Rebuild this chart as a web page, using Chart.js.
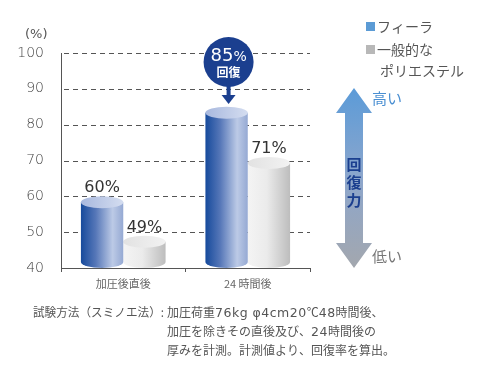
<!DOCTYPE html>
<html>
<head>
<meta charset="utf-8">
<script src="https://cdn.jsdelivr.net/npm/chart.js@4"></script>
<style>
  html, body { margin: 0; padding: 0; background: #fff; }
  #wrap { position: relative; width: 500px; height: 375px; }
</style>
</head>
<body>
<div id="wrap"><canvas id="chart" width="500" height="375"></canvas></div>
<script>
const categories = ['加圧後直後', '24 時間後'];
const feeraValues = [60, 85];
const polyValues = [49, 71];
const yTicks = [40, 50, 60, 70, 80, 90, 100];
const seriesNames = ['フィーラ', '一般的な', 'ポリエステル'];
const notePrefix = '試験方法（スミノエ法）:';
const noteLines = [
  '加圧荷重76kg φ4cm20℃48時間後、',
  '加圧を除きその直後及び、24時間後の',
  '厚みを計測。計測値より、回復率を算出。'
];

const FONT = '"Noto Sans CJK JP", "Noto Sans", sans-serif';
const NUM = '"DejaVu Sans", sans-serif';
const TEXT = '#555';

// 英数字は幅の広い書体で描く
function drawMixed(ctx, text, x, y, size) {
  let cx = x;
  for (const ch of text) {
    const ascii = /[0-9A-Za-z φ]/.test(ch);
    ctx.font = ascii ? (size + 0.5) + 'px ' + NUM : size + 'px ' + FONT;
    ctx.fillText(ch, cx, y);
    cx += ctx.measureText(ch).width + (ascii ? 0.5 : 0);
  }
}

// 点線の目盛線
const dashGridPlugin = {
  id: 'dashGrid',
  beforeDatasetsDraw(chart) {
    const ctx = chart.ctx;
    const y = chart.scales.y;
    const area = chart.chartArea;
    ctx.save();
    ctx.strokeStyle = '#555';
    ctx.lineWidth = 1;
    ctx.setLineDash([5, 4]);
    yTicks.forEach((v) => {
      if (v === y.min) return;
      const py = Math.round(y.getPixelForValue(v)) + 0.5;
      ctx.beginPath();
      ctx.moveTo(area.left + 3, py);
      ctx.lineTo(area.right, py);
      ctx.stroke();
    });
    ctx.restore();
  }
};

// 円柱風に棒を描く
const cylinderPlugin = {
  id: 'cylinder',
  afterDatasetsDraw(chart) {
    const ctx = chart.ctx;
    const ry = 6;
    const base = chart.chartArea.bottom;
    // グレーを先に、青を手前に
    [1, 0].forEach((di) => {
      const meta = chart.getDatasetMeta(di);
      meta.data.forEach((bar, idx) => {
        const w = bar.width;
        const left = bar.x - w / 2;
        const right = bar.x + w / 2;
        const top = bar.y + ry;
        const bottom = base - ry;
        const g = ctx.createLinearGradient(left, 0, right, 0);
        if (di === 0) {
          g.addColorStop(0, '#164a9c');
          g.addColorStop(0.35, '#5677b8');
          g.addColorStop(0.75, '#bccae6');
          g.addColorStop(1, '#95a9d3');
        } else {
          g.addColorStop(0, '#f4f4f4');
          g.addColorStop(0.45, '#ebebeb');
          g.addColorStop(1, '#bdbdbd');
        }
        ctx.save();
        ctx.fillStyle = g;
        ctx.beginPath();
        ctx.moveTo(left, top);
        ctx.lineTo(left, bottom);
        ctx.ellipse(bar.x, bottom, w / 2, ry, 0, Math.PI, 0, true);
        ctx.lineTo(right, top);
        ctx.closePath();
        ctx.fill();
        const tg = ctx.createLinearGradient(left, 0, right, 0);
        if (di === 0) {
          tg.addColorStop(0, '#a8b8de');
          tg.addColorStop(1, '#d4ddf0');
        } else {
          tg.addColorStop(0, '#e2e2e2');
          tg.addColorStop(1, '#f2f2f2');
        }
        ctx.fillStyle = tg;
        ctx.beginPath();
        ctx.ellipse(bar.x, top, w / 2, ry, 0, 0, Math.PI * 2);
        ctx.fill();
        ctx.restore();

        // 値ラベル
        const v = chart.data.datasets[di].data[idx];
        if (!(di === 0 && idx === 1)) {
          ctx.save();
          ctx.fillStyle = '#333';
          ctx.font = '16px ' + NUM;
          ctx.textAlign = 'center';
          ctx.fillText(v + '%', bar.x, bar.y - 4);
          ctx.restore();
        }
      });
    });

    // 85%回復の吹き出し
    const hi = chart.getDatasetMeta(0).data[1];
    const cx = hi.x + 2;
    const cy = 62;
    ctx.save();
    ctx.fillStyle = '#1b3f8f';
    ctx.beginPath();
    ctx.arc(cx, cy, 25, 0, Math.PI * 2);
    ctx.fill();
    ctx.fillRect(cx - 2, cy + 20, 4, 15);
    ctx.beginPath();
    ctx.moveTo(cx - 7, cy + 33);
    ctx.lineTo(cx + 7, cy + 33);
    ctx.lineTo(cx, cy + 42);
    ctx.closePath();
    ctx.fill();
    ctx.fillStyle = '#fff';
    ctx.textAlign = 'left';
    ctx.font = '18px ' + NUM;
    const w85 = ctx.measureText('85').width;
    ctx.font = '14px ' + NUM;
    const wp = ctx.measureText('%').width;
    const sx = cx - (w85 + wp) / 2;
    ctx.font = '18px ' + NUM;
    ctx.fillText('85', sx, cy - 1);
    ctx.font = '14px ' + NUM;
    ctx.fillText('%', sx + w85, cy - 1);
    ctx.textAlign = 'center';
    ctx.font = 'bold 12px ' + FONT;
    ctx.fillText('回復', cx, cy + 15);
    ctx.restore();

    // (%)
    ctx.save();
    ctx.fillStyle = '#555';
    ctx.font = '13px ' + NUM;
    ctx.textAlign = 'left';
    ctx.fillText('(%)', 25, 38);
    ctx.restore();
  }
};

// 凡例・右の矢印・注記
const extrasPlugin = {
  id: 'extras',
  afterDraw(chart) {
    const ctx = chart.ctx;
    ctx.save();
    // 凡例
    ctx.fillStyle = '#5b9bd5';
    ctx.fillRect(366, 22, 9, 9);
    ctx.fillStyle = '#b8b8b8';
    ctx.fillRect(366, 45, 9, 9);
    ctx.fillStyle = TEXT;
    ctx.font = '14px ' + FONT;
    ctx.textAlign = 'left';
    ctx.fillText(seriesNames[0], 377, 32);
    ctx.fillText(seriesNames[1], 377, 55);
    ctx.fillText(seriesNames[2], 380, 76);

    // 矢印
    const ax = 354;
    const top = 88, bot = 268;
    const g = ctx.createLinearGradient(0, top, 0, bot);
    g.addColorStop(0, '#5b9bd8');
    g.addColorStop(0.5, '#8ca6cc');
    g.addColorStop(1, '#a3a7ae');
    ctx.fillStyle = g;
    ctx.beginPath();
    ctx.moveTo(ax, top);
    ctx.lineTo(ax + 18, top + 25);
    ctx.lineTo(ax + 9, top + 25);
    ctx.lineTo(ax + 9, bot - 25);
    ctx.lineTo(ax + 18, bot - 25);
    ctx.lineTo(ax, bot);
    ctx.lineTo(ax - 18, bot - 25);
    ctx.lineTo(ax - 9, bot - 25);
    ctx.lineTo(ax - 9, top + 25);
    ctx.lineTo(ax - 18, top + 25);
    ctx.closePath();
    ctx.fill();

    ctx.textAlign = 'left';
    ctx.font = '15px ' + FONT;
    ctx.fillStyle = '#4a8fd2';
    ctx.fillText('高い', 372, 104);
    ctx.fillStyle = '#777';
    ctx.fillText('低い', 372, 262);

    ctx.fillStyle = '#1b3f8f';
    ctx.font = 'bold 15px ' + FONT;
    ctx.textAlign = 'center';
    ['回', '復', '力'].forEach((c, i) => ctx.fillText(c, ax, 170 + i * 18));

    // 注記
    ctx.fillStyle = TEXT;
    ctx.textAlign = 'left';
    ctx.font = '12px ' + FONT;
    ctx.fillText(notePrefix, 33, 317, 131);
    drawMixed(ctx, noteLines[0], 167, 317, 12);
    drawMixed(ctx, noteLines[1], 167, 336, 12);
    drawMixed(ctx, noteLines[2], 167, 355, 12);
    ctx.restore();
  }
};

const ctx = document.getElementById('chart').getContext('2d');
new Chart(ctx, {
  type: 'bar',
  data: {
    labels: categories,
    datasets: [
      { label: seriesNames[0], data: feeraValues, backgroundColor: 'rgba(0,0,0,0)' },
      { label: seriesNames[1], data: polyValues, backgroundColor: 'rgba(0,0,0,0)' }
    ]
  },
  options: {
    responsive: false,
    animation: false,
    events: [],
    layout: { padding: { left: 0, right: 190, top: 53, bottom: 82 } },
    plugins: { legend: { display: false }, tooltip: { enabled: false } },
    datasets: { bar: { categoryPercentage: 0.68, barPercentage: 1.0 } },
    scales: {
      x: {
        afterFit(scale) { scale.height = 25; },
        border: { display: true, color: '#555', width: 1 },
        grid: { display: true, offset: true, drawOnChartArea: false, tickLength: 4, color: '#555' },
        ticks: { color: '#666', font: { family: FONT, size: 11 }, padding: 5 }
      },
      y: {
        min: 40,
        max: 100,
        afterFit(scale) { scale.width = 61; },
        afterBuildTicks(scale) { scale.ticks = yTicks.map((v) => ({ value: v })); },
        border: { display: true, color: '#555', width: 1 },
        grid: { display: false },
        ticks: { color: '#444', font: { family: NUM, size: 14, weight: '200' }, padding: 9 }
      }
    }
  },
  plugins: [dashGridPlugin, cylinderPlugin, extrasPlugin]
});
</script>
</body>
</html>
